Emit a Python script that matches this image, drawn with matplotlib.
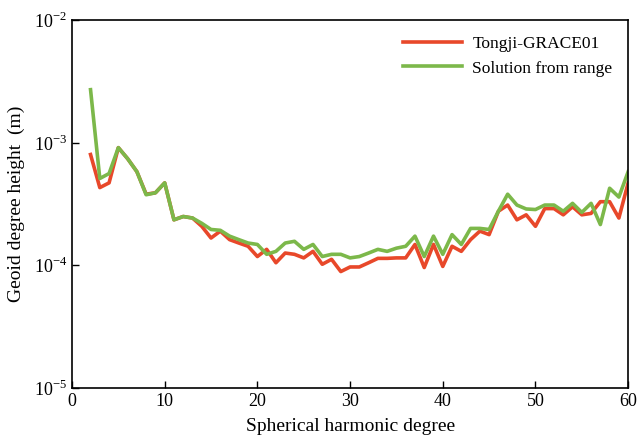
import numpy as np
import matplotlib
matplotlib.use("Agg")
import matplotlib.pyplot as plt

plt.rcParams['font.family'] = ['Liberation Serif', 'DejaVu Serif']
plt.rcParams['mathtext.fontset'] = 'custom'
plt.rcParams['mathtext.rm'] = 'Liberation Serif'

degree = list(range(2, 61))
tongji = [8.0e-4, 4.3e-4, 4.7e-4, 9.1e-4, 7.4e-4, 5.8e-4, 3.8e-4, 3.9e-4, 4.7e-4,
          2.35e-4, 2.5e-4, 2.43e-4, 2.08e-4, 1.67e-4, 1.9e-4, 1.62e-4, 1.52e-4, 1.43e-4,
          1.18e-4, 1.35e-4, 1.05e-4, 1.26e-4, 1.23e-4, 1.15e-4, 1.3e-4, 1.02e-4, 1.12e-4,
          8.9e-5, 9.7e-5, 9.7e-5, 1.05e-4, 1.14e-4, 1.14e-4, 1.15e-4, 1.15e-4, 1.48e-4,
          9.6e-5, 1.48e-4, 9.8e-5, 1.43e-4, 1.3e-4, 1.62e-4, 1.9e-4, 1.78e-4, 2.76e-4,
          3.1e-4, 2.35e-4, 2.58e-4, 2.08e-4, 2.9e-4, 2.9e-4, 2.58e-4, 3.0e-4, 2.58e-4,
          2.65e-4, 3.3e-4, 3.3e-4, 2.43e-4, 4.7e-4]
solution = [2.7e-3, 5.1e-4, 5.6e-4, 9.1e-4, 7.4e-4, 5.8e-4, 3.76e-4, 3.9e-4, 4.7e-4,
            2.35e-4, 2.5e-4, 2.43e-4, 2.2e-4, 1.96e-4, 1.93e-4, 1.73e-4, 1.62e-4, 1.52e-4,
            1.48e-4, 1.23e-4, 1.3e-4, 1.52e-4, 1.57e-4, 1.35e-4, 1.48e-4, 1.18e-4, 1.23e-4,
            1.23e-4, 1.15e-4, 1.18e-4, 1.26e-4, 1.35e-4, 1.3e-4, 1.38e-4, 1.43e-4, 1.73e-4,
            1.18e-4, 1.73e-4, 1.23e-4, 1.78e-4, 1.48e-4, 2.0e-4, 2.0e-4, 1.96e-4, 2.76e-4,
            3.8e-4, 3.1e-4, 2.88e-4, 2.85e-4, 3.1e-4, 3.1e-4, 2.76e-4, 3.2e-4, 2.7e-4,
            3.2e-4, 2.15e-4, 4.25e-4, 3.6e-4, 5.8e-4]

fig = plt.figure(figsize=(6.4, 4.42), dpi=100)
ax = fig.add_axes([0.1125, 0.122, 0.869, 0.833])

ax.plot(degree, tongji, color='#e8482a', lw=2.6, label='Tongji-GRACE01')
ax.plot(degree, solution, color='#7cb84a', lw=2.6, label='Solution from range')

ax.set_yscale('log')
ax.set_xlim(0, 60)
ax.set_ylim(1e-5, 1e-2)
ax.set_xticks([0, 10, 20, 30, 40, 50, 60])
ax.set_yticks([1e-5, 1e-4, 1e-3, 1e-2])
ax.set_yticklabels(['10$^{-5}$', '10$^{-4}$', '10$^{-3}$', '10$^{-2}$'])
ax.yaxis.set_minor_locator(matplotlib.ticker.NullLocator())
ax.tick_params(direction='in', length=5, width=1, labelsize=13)
for s in ax.spines.values():
    s.set_linewidth(1.2)

ax.set_xlabel('Spherical harmonic degree', fontsize=14, labelpad=6)
ax.set_ylabel('Geoid degree height  (m)', fontsize=14, labelpad=6)
ax.legend(loc='upper right', frameon=False, fontsize=12.5, handlelength=3.4,
          handletextpad=0.6, borderaxespad=0.5, labelspacing=0.5)

fig.savefig('out.png', dpi=100)
